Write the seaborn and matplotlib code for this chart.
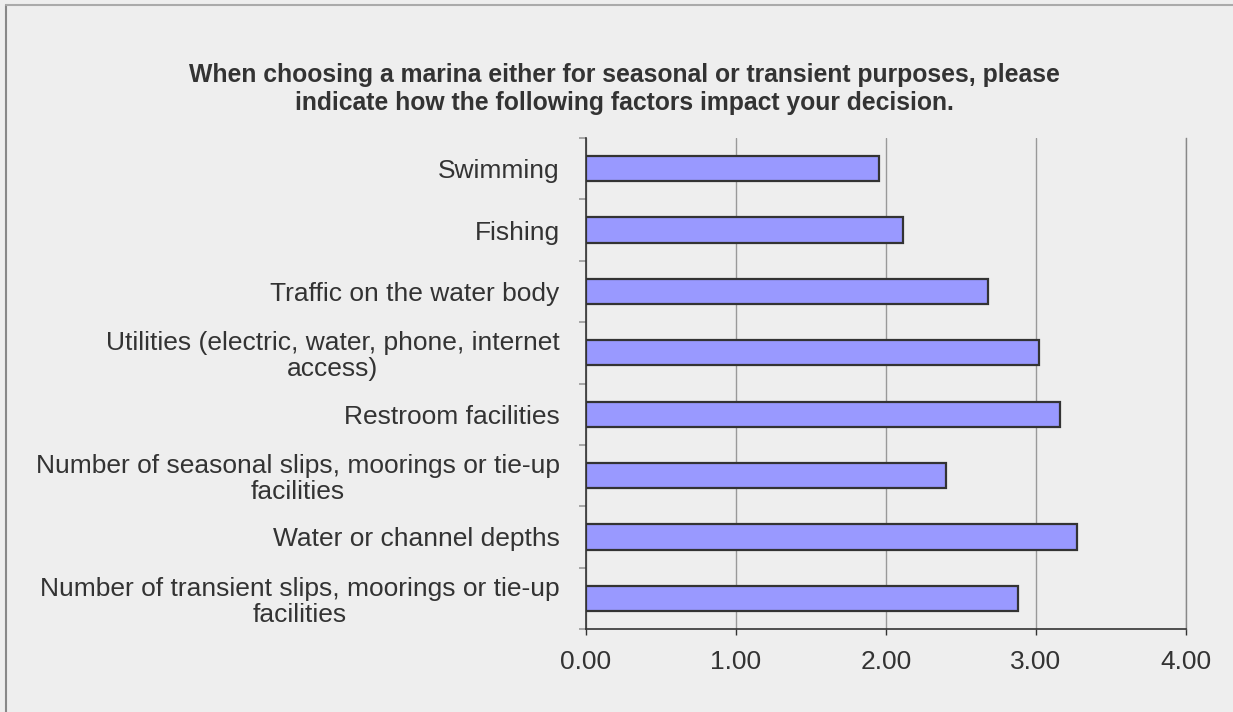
import matplotlib
matplotlib.use("Agg")
import matplotlib.pyplot as plt
from matplotlib.lines import Line2D
import numpy as np
import pandas as pd
import seaborn as sns

# Survey factors (top to bottom) and their mean impact scores
factors = [
    "Swimming",
    "Fishing",
    "Traffic on the water body",
    "Utilities (electric, water, phone, internet\naccess)",
    "Restroom facilities",
    "Number of seasonal slips, moorings or tie-up\nfacilities",
    "Water or channel depths",
    "Number of transient slips, moorings or tie-up\nfacilities",
]
scores = [1.95, 2.11, 2.68, 3.02, 3.16, 2.40, 3.27, 2.88]
x_ticks = [0, 1, 2, 3, 4]
x_tick_labels = ["0.00", "1.00", "2.00", "3.00", "4.00"]
title = ("When choosing a marina either for seasonal or transient purposes, please\n"
         "indicate how the following factors impact your decision.")

df = pd.DataFrame({"factor": factors, "score": scores})

sns.set_theme(style="white")
plt.rcParams["font.family"] = ["Liberation Sans", "DejaVu Sans"]

bg = "#eeeeee"
fig = plt.figure(figsize=(12.33, 7.12), dpi=100, facecolor=bg)
ax = fig.add_axes([586 / 1233, 1 - 629 / 712, 600 / 1233, (629 - 138) / 712])
ax.set_facecolor(bg)

sns.barplot(data=df, x="score", y="factor", orient="h", ax=ax,
            color="#9999ff", saturation=1, width=0.41,
            edgecolor="#333333", linewidth=1.6, zorder=3)

ax.set_xlim(0, 4)
ax.set_ylim(len(factors) - 0.5, -0.5)
ax.set_xlabel("")
ax.set_ylabel("")

# vertical gridlines
ax.set_xticks(x_ticks)
ax.set_xticklabels(x_tick_labels, fontsize=19, color="#333333")
ax.xaxis.grid(True, color="#999999", linewidth=1.0, zorder=0)
ax.yaxis.grid(False)

# category labels with boundary tick marks
ax.set_yticks(np.arange(len(factors)))
ax.set_yticklabels(factors, fontsize=19, color="#333333",
                   multialignment="center", linespacing=1.1)
ax.set_yticks(np.arange(len(factors) + 1) - 0.5, minor=True)
ax.tick_params(axis="y", which="major", length=0, pad=19)
ax.tick_params(axis="y", which="minor", length=5, width=1.2, color="#999999", direction="out", left=True)
ax.tick_params(axis="x", which="major", length=4, width=1, color="#333333", direction="out", bottom=True, pad=11)

ax.spines["top"].set_visible(False)
ax.spines["right"].set_visible(True)
ax.spines["right"].set_color("#888888")
ax.spines["right"].set_linewidth(1.0)
for side in ["left", "bottom"]:
    ax.spines[side].set_visible(True)
    ax.spines[side].set_color("#333333")
    ax.spines[side].set_linewidth(1.2)

fig.text(624 / 1233, 1 - 89 / 712, title, ha="center", va="center",
         fontsize=17.8, fontweight="bold", color="#333333", linespacing=1.25)

# outer frame (top and left edges)
fig.add_artist(Line2D([6 / 1233, 6 / 1233], [0, 1 - 5 / 712], transform=fig.transFigure,
                      color="#888888", linewidth=1.5))
fig.add_artist(Line2D([6 / 1233, 1], [1 - 5 / 712, 1 - 5 / 712], transform=fig.transFigure,
                      color="#aaaaaa", linewidth=1.5))

fig.savefig("out.png", dpi=100, facecolor=bg)
